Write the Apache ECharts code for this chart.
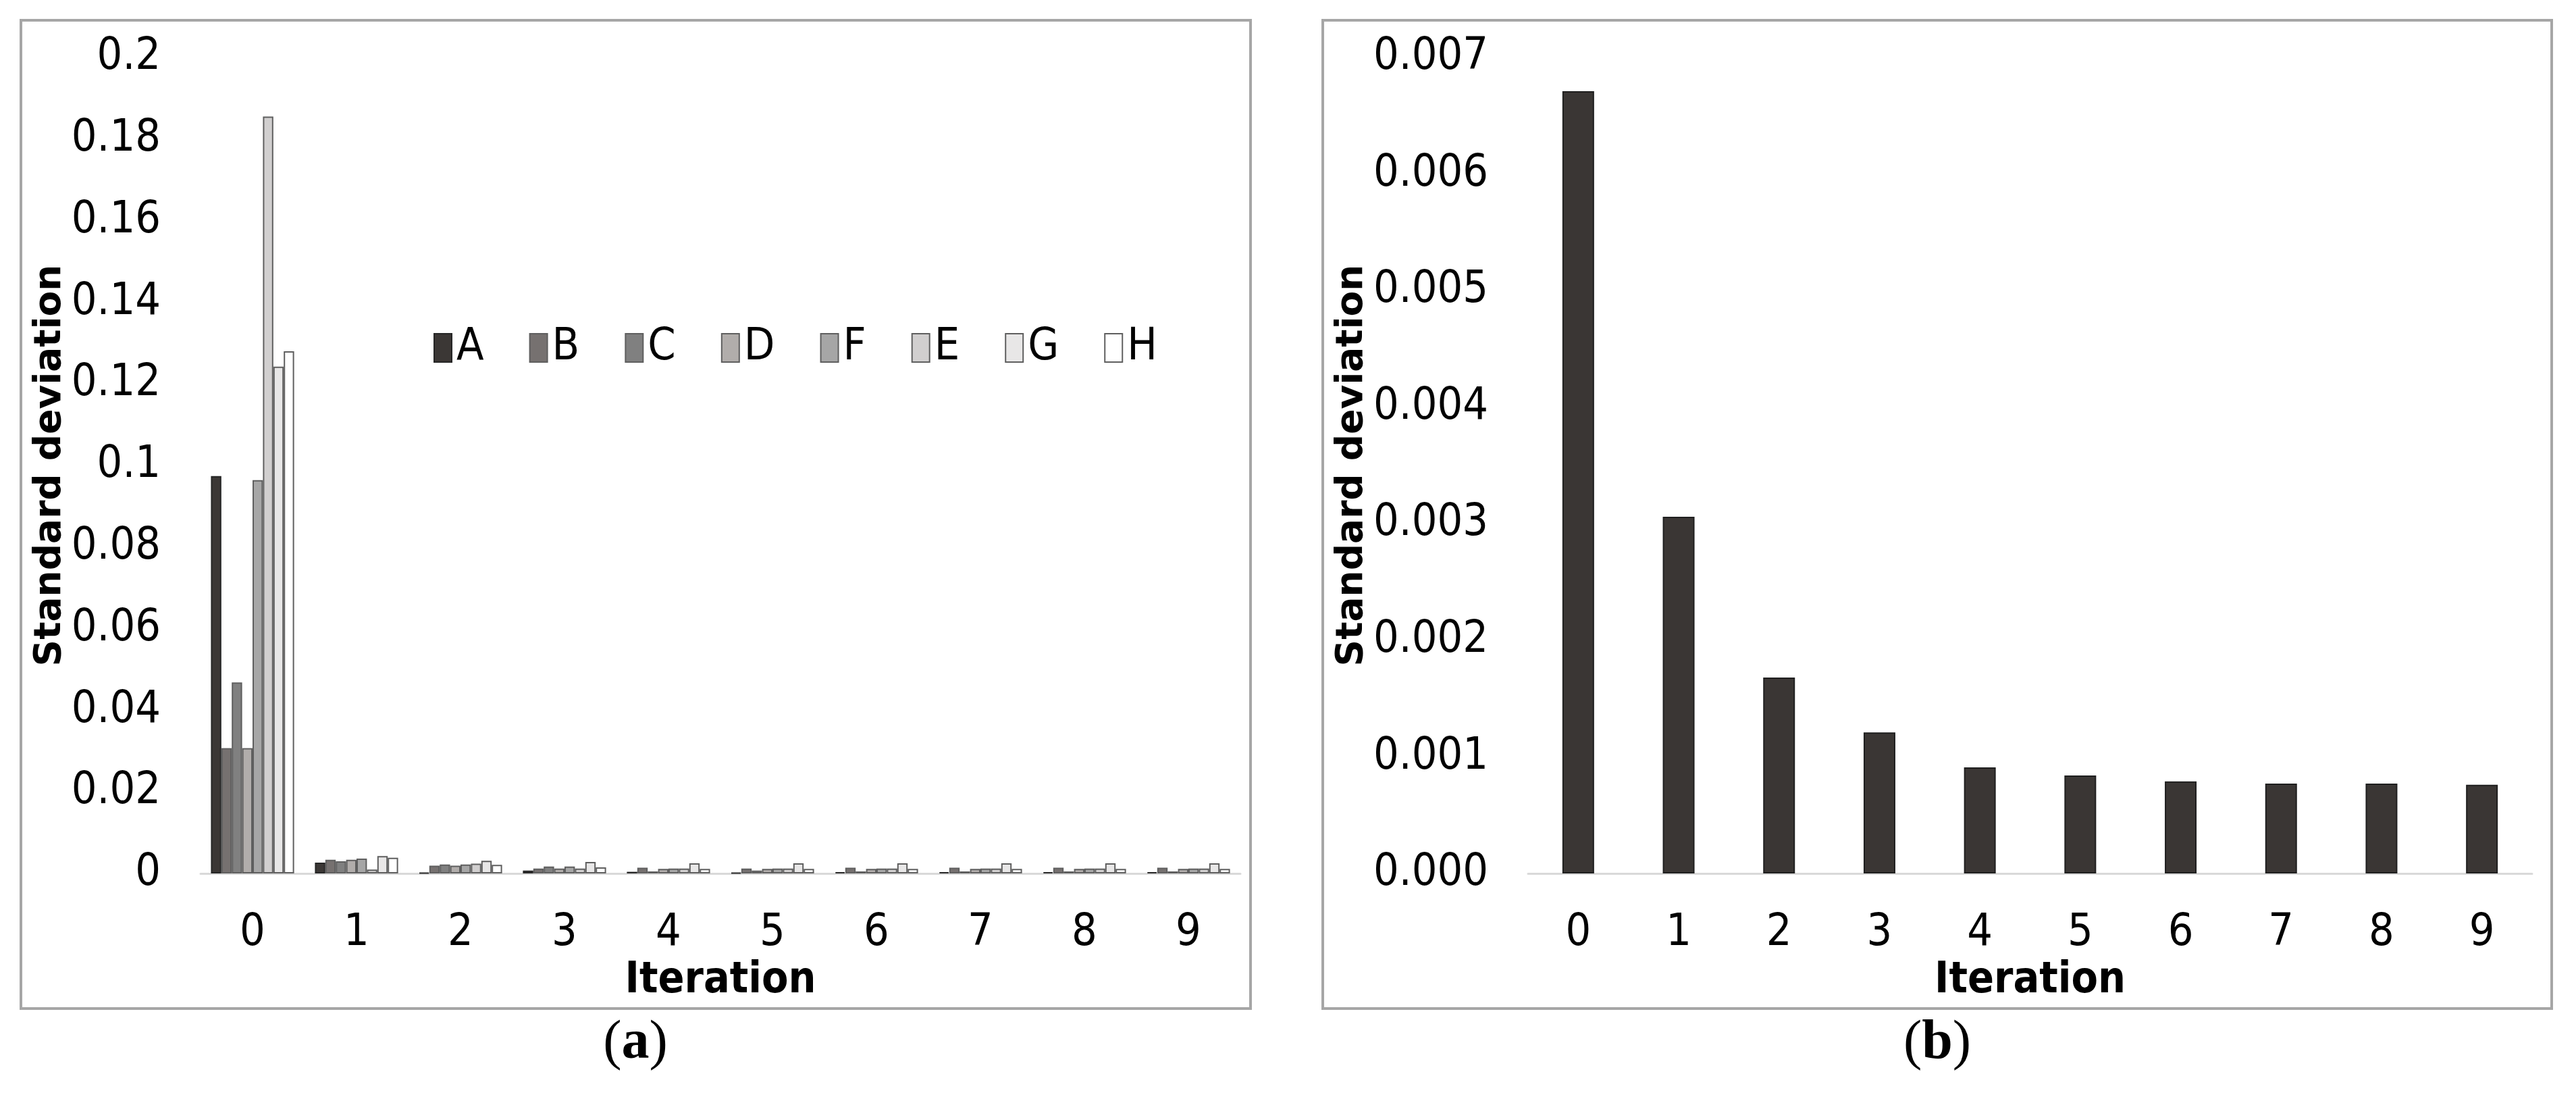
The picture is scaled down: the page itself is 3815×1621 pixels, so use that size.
<!DOCTYPE html>
<html>
<head>
<meta charset="utf-8">
<script src="https://cdn.jsdelivr.net/npm/echarts@6/dist/echarts.min.js"></script>
<style>
  html, body { margin: 0; padding: 0; background: #fff; }
  #chart { width: 3815px; height: 1621px; }
</style>
</head>
<body>
<div id="chart"></div>
<script>
// iterations on the x axis, shared by both panels
const iterations = ['0', '1', '2', '3', '4', '5', '6', '7', '8', '9'];

// panel (a): one series per legend entry, in legend order
const seriesNames = ['A', 'B', 'C', 'D', 'F', 'E', 'G', 'H'];
const seriesA = [0.0974, 0.00265, 0.0002, 0.0007, 0.0004, 0.0002, 0.0003, 0.0003, 0.0003, 0.0003];
const seriesB = [0.0307, 0.00337, 0.0019, 0.0012, 0.0014, 0.0012, 0.0014, 0.0014, 0.0014, 0.0014];
const seriesC = [0.0468, 0.00298, 0.0022, 0.0017, 0.0005, 0.0007, 0.0005, 0.0005, 0.0005, 0.0005];
const seriesD = [0.0307, 0.00337, 0.0019, 0.0012, 0.0011, 0.0011, 0.0011, 0.0011, 0.0011, 0.0011];
const seriesF = [0.0964, 0.00364, 0.0022, 0.0017, 0.0012, 0.0012, 0.0012, 0.0012, 0.0012, 0.0012];
const seriesE = [0.1855, 0.00094, 0.0024, 0.0012, 0.0012, 0.0012, 0.0012, 0.0012, 0.0012, 0.0012];
const seriesG = [0.1242, 0.00425, 0.0031, 0.0028, 0.0025, 0.0025, 0.0025, 0.0025, 0.0025, 0.0025];
const seriesH = [0.1280, 0.00386, 0.0021, 0.0015, 0.0011, 0.0011, 0.0011, 0.0011, 0.0011, 0.0011];
const seriesColors = ['#3b3735', '#767170', '#808080', '#b1adab', '#a6a6a6', '#d1cfcf', '#e8e7e7', '#ffffff'];

// panel (b): overall standard deviation
const overallStd = [0.00671, 0.00306, 0.00168, 0.00121, 0.00091, 0.00084, 0.00079, 0.00077, 0.00077, 0.00076];

// tick labels
const yTicksA = ['0', '0.02', '0.04', '0.06', '0.08', '0.1', '0.12', '0.14', '0.16', '0.18', '0.2'];
const yTicksB = ['0.000', '0.001', '0.002', '0.003', '0.004', '0.005', '0.006', '0.007'];

const numFont = "'Liberation Sans Narrow', 'DejaVu Sans Condensed', sans-serif";
const titleFont = "'DejaVu Sans', sans-serif";

const chart = echarts.init(document.getElementById('chart'), null, { renderer: 'canvas' });

const valuesA = [seriesA, seriesB, seriesC, seriesD, seriesF, seriesE, seriesG, seriesH];

const barSeries = seriesNames.map(function (name, i) {
    return {
        name: name,
        type: 'bar',
        xAxisIndex: 0,
        yAxisIndex: 0,
        data: valuesA[i],
        barGap: '0%',
        barCategoryGap: '20%',
        itemStyle: {
            color: seriesColors[i],
            borderColor: i === 0 ? '#262626' : '#5f5f5f',
            borderWidth: 2
        }
    };
});

function xAxisCommon(gridIndex) {
    return {
        type: 'category',
        gridIndex: gridIndex,
        data: iterations,
        axisTick: { show: false },
        axisLine: { lineStyle: { color: '#d9d9d9', width: 3 } },
        axisLabel: { fontFamily: numFont, fontSize: 66, color: '#000', margin: 56 },
        name: 'Iteration',
        nameLocation: 'middle',
        nameGap: 116,
        nameTextStyle: { fontFamily: numFont, fontWeight: 'bold', fontSize: 64, color: '#000' }
    };
}

function caption(x, letter) {
    return {
        type: 'text', x: x, y: 1545, silent: true,
        style: {
            text: '{p|(}{b|' + letter + '}{p|)}', align: 'center', verticalAlign: 'middle',
            rich: {
                p: { fontFamily: "'Liberation Serif', serif", fontSize: 82, fill: '#000' },
                b: { fontFamily: "'Liberation Serif', serif", fontSize: 82, fontWeight: 'bold', fill: '#000' }
            }
        }
    };
}

chart.setOption({
    backgroundColor: '#ffffff',
    animation: false,
    grid: [
        { left: 297, right: 1978, top: 85, bottom: 328 },
        { left: 2263, right: 65, top: 85, bottom: 328 }
    ],
    legend: {
        data: seriesNames,
        icon: 'rect',
        left: 637,
        top: 477,
        itemWidth: 26,
        itemHeight: 42,
        itemGap: 67,
        textStyle: { fontFamily: numFont, fontSize: 66, color: '#000', padding: [0, 0, 0, 2] }
    },
    xAxis: [xAxisCommon(0), xAxisCommon(1)],
    yAxis: [
        {
            type: 'value',
            gridIndex: 0,
            min: 0,
            max: 0.2,
            interval: 0.02,
            splitLine: { show: false },
            axisLine: { show: false },
            axisTick: { show: false },
            axisLabel: {
                fontFamily: numFont, fontSize: 66, color: '#000', margin: 59,
                formatter: function (v) { return yTicksA[Math.round(v / 0.02)]; }
            },
            name: 'Standard deviation',
            nameLocation: 'middle',
            nameRotate: 90,
            nameGap: 184,
            nameTextStyle: { fontFamily: titleFont, fontWeight: 'bold', fontSize: 55, color: '#000' }
        },
        {
            type: 'value',
            gridIndex: 1,
            min: 0,
            max: 0.007,
            interval: 0.001,
            splitLine: { show: false },
            axisLine: { show: false },
            axisTick: { show: false },
            axisLabel: {
                fontFamily: numFont, fontSize: 66, color: '#000', margin: 59,
                formatter: function (v) { return yTicksB[Math.round(v / 0.001)]; }
            },
            name: 'Standard deviation',
            nameLocation: 'middle',
            nameRotate: 90,
            nameGap: 210,
            nameTextStyle: { fontFamily: titleFont, fontWeight: 'bold', fontSize: 55, color: '#000' }
        }
    ],
    series: barSeries.concat([
        {
            name: 'Overall',
            type: 'bar',
            xAxisIndex: 1,
            yAxisIndex: 1,
            data: overallStd,
            barWidth: 47,
            itemStyle: { color: '#3a3634', borderColor: '#1f1f1f', borderWidth: 2 }
        }
    ]),
    graphic: [
        // panel frames
        { type: 'rect', silent: true, shape: { x: 31, y: 30, width: 1821, height: 1463 },
          style: { fill: null, stroke: '#a6a6a6', lineWidth: 4 } },
        { type: 'rect', silent: true, shape: { x: 1959, y: 30, width: 1820, height: 1463 },
          style: { fill: null, stroke: '#a6a6a6', lineWidth: 4 } },
        // panel captions
        caption(941, 'a'),
        caption(2869, 'b')
    ]
});
</script>
</body>
</html>
